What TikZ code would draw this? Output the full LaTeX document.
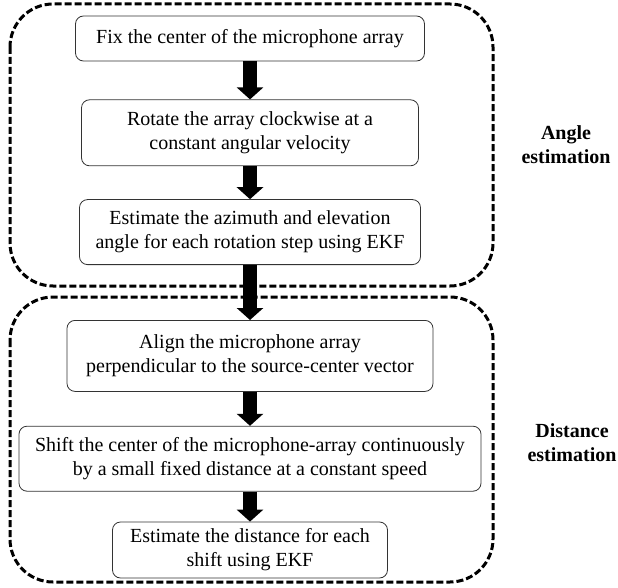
\documentclass[tikz,border=0pt]{standalone}
\usepackage{fontspec}
\setmainfont{Liberation Serif}
\usetikzlibrary{arrows.meta,positioning}

\begin{document}
\begin{tikzpicture}[x=1pt,y=-1pt,font=\fontsize{20}{24}\selectfont]
\tikzstyle{stage}=[draw=black!80,line width=0.8pt,rounded corners=8pt,align=center,inner sep=2pt]
\tikzstyle{flow}=[line width=14pt,-{Triangle[width=26pt,length=12pt]}]
\tikzstyle{group}=[line width=3pt,dash pattern=on 7pt off 3pt,rounded corners=43pt]

\useasboundingbox (0,0) rectangle (618,588);

% dashed groups
\draw[group] (10,4) rectangle (493,286);
\draw[group] (10,297) rectangle (493,582);

\node[stage,minimum width=349pt,minimum height=45pt] (A) at (250,38.5) {Fix the center of the microphone array};
\node[stage,minimum width=337pt,minimum height=66pt] (B) [below=38pt of A] {Rotate the array clockwise at a\\constant angular velocity};
\node[stage,minimum width=341pt,minimum height=65pt] (C) [below=33pt of B] {Estimate the azimuth and elevation\\angle for each rotation step using EKF};
\node[stage,minimum width=366pt,minimum height=71pt] (D) [below=55pt of C] {Align the microphone array\\perpendicular to the source-center vector};
\node[stage,minimum width=462pt,minimum height=65pt] (E) [below=34pt of D] {Shift the center of the microphone-array continuously\\by a small fixed distance at a constant speed};
\node[stage,minimum width=275pt,minimum height=56pt] (F) [below=30pt of E] {Estimate the distance for each\\shift using EKF};

\node[align=center,font=\fontsize{20}{24}\selectfont\bfseries] (angle) at (566,145) {Angle\\estimation};
\node[align=center,font=\fontsize{20}{24}\selectfont\bfseries] (dist) at (572,443) {Distance\\estimation};

\path[flow]
(A) edge (B)
(B) edge (C)
(C) edge (D)
(D) edge (E)
(E) edge (F)
;
\end{tikzpicture}
\end{document}
